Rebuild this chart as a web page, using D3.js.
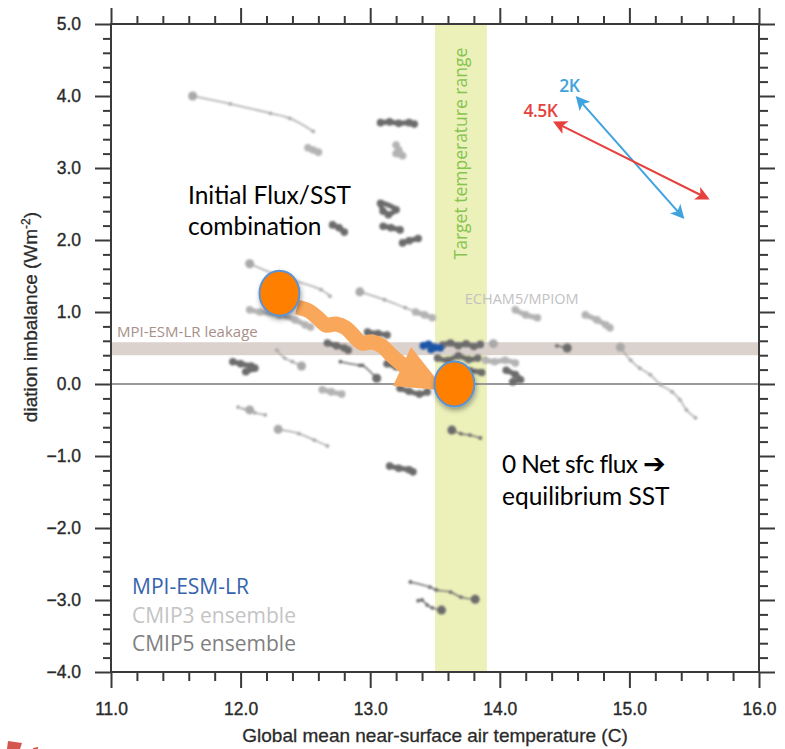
<!DOCTYPE html>
<html>
<head>
<meta charset="utf-8">
<script src="https://cdn.jsdelivr.net/npm/d3@7"></script>
<style>
  html, body { margin: 0; padding: 0; background: #fff; }
  svg { display: block; }
</style>
</head>
<body>
<div id="chart"></div>
<script>
// ---- axes / reference values ----
const xDomain = [11, 16];
const yDomain = [-4, 5];
const xTicks = [11, 12, 13, 14, 15, 16];
const yTicks = [-4, -3, -2, -1, 0, 1, 2, 3, 4, 5];
const targetRange = [13.5, 13.9];        // target temperature band (C)
const leakageBand = [0.4, 0.58];         // MPI-ESM-LR leakage (W m-2)

// ---- CMIP3 ensemble (light grey) ----
const cmip3Trails = [
  [[11.63, 4.00], [11.92, 3.89], [12.23, 3.76], [12.38, 3.69], [12.56, 3.51]],
  [[12.07, 1.67], [12.30, 1.50], [12.62, 1.31], [12.69, 1.22]],
  [[12.92, 1.28], [13.11, 1.17], [13.27, 1.06], [13.46, 0.93]],
  [[12.47, 0.25], [12.40, 0.31], [12.34, 0.36], [12.28, 0.47]],
  [[12.07, -0.36], [11.98, -0.32], [12.11, -0.40], [12.19, -0.43]],
  [[12.29, -0.63], [12.45, -0.69], [12.57, -0.78], [12.67, -0.86]],
  [[14.93, 0.51], [15.01, 0.33], [15.08, 0.22], [15.16, 0.13], [15.24, -0.01],
   [15.33, -0.11], [15.39, -0.22], [15.44, -0.36], [15.51, -0.47]],
  [[13.95, 0.56]]
];
const cmip3Blobs = [
  [[12.52, 3.28], [12.56, 3.25], [12.60, 3.22]],
  [[13.20, 3.32], [13.22, 3.25], [13.25, 3.17], [13.20, 3.20]],
  [[12.07, 1.03], [12.15, 1.00], [12.30, 0.96], [12.42, 0.89], [12.50, 0.82], [12.54, 0.79]],
  [[12.63, -0.08], [12.70, -0.11], [12.78, -0.14]],
  [[13.35, 1.00], [13.42, 0.96], [13.48, 0.92]],
  [[14.12, 1.03], [14.20, 0.96], [14.29, 0.92]],
  [[14.66, 0.96], [14.75, 0.89], [14.82, 0.82], [14.85, 0.78]],
  [[13.89, 0.33], [13.96, 0.31], [14.04, 0.33], [14.12, 0.29]]
];

// ---- CMIP5 ensemble (dark grey) ----
const cmip5Trails = [
  [[13.81, -2.99], [13.70, -2.96], [13.62, -2.89], [13.51, -2.86], [13.46, -2.82], [13.31, -2.75]],
  [[13.55, -3.14], [13.48, -3.11], [13.44, -3.07], [13.40, -3.00], [13.37, -3.01]],
  [[13.05, 0.08], [12.94, 0.26], [12.92, 0.26], [12.77, 0.31]],
  [[14.52, 0.50], [14.44, 0.53]],
  [[13.63, -0.64], [13.70, -0.69], [13.77, -0.71], [13.85, -0.75]]
];
const cmip5Blobs = [
  [[13.08, 3.63], [13.15, 3.64], [13.22, 3.62], [13.30, 3.63], [13.34, 3.61]],
  [[13.10, 2.40], [13.08, 2.51], [13.20, 2.42], [13.14, 2.35]],
  [[13.10, 2.19], [13.16, 2.17], [13.23, 2.14]],
  [[13.25, 1.96], [13.30, 1.99], [13.37, 2.02]],
  [[12.71, 2.21], [12.76, 2.17], [12.80, 2.11]],
  [[11.94, 0.31], [12.00, 0.28], [12.08, 0.25], [12.11, 0.22], [12.04, 0.17]],
  [[12.67, 0.57], [12.74, 0.53], [12.80, 0.50], [12.83, 0.47]],
  [[12.98, 0.72], [13.06, 0.70], [13.13, 0.68]],
  [[13.13, 0.28], [13.20, 0.24], [13.27, 0.20]],
  [[13.23, -0.06], [13.30, -0.10], [13.38, -0.14], [13.44, -0.11]],
  [[13.15, -1.14], [13.22, -1.17], [13.30, -1.19], [13.33, -1.22]],
  [[13.56, 0.54], [13.62, 0.57], [13.68, 0.53], [13.74, 0.56], [13.80, 0.52], [13.85, 0.55]],
  [[13.52, 0.36], [13.60, 0.33], [13.68, 0.39], [13.76, 0.34], [13.83, 0.36]],
  [[13.58, 0.19], [13.68, 0.15], [13.77, 0.18], [13.86, 0.16]],
  [[14.05, 0.19], [14.12, 0.13], [14.16, 0.06], [14.10, 0.03]],
  [[13.60, -0.05], [13.70, -0.08]]
];

// ---- MPI-ESM-LR (blue) ----
const mpiBlob = [[13.41, 0.53], [13.45, 0.55], [13.50, 0.51], [13.54, 0.50], [13.47, 0.48]];

// ---- climate sensitivity arrows ----
const arrow2K = [[14.60, 3.97], [15.41, 2.32]];
const arrow45K = [[14.43, 3.63], [15.60, 2.58]];

// ---- overlay annotation (initial state -> equilibrium) ----
const initialPoint = [12.30, 1.26];
const equilibriumPoint = [13.65, 0.0];
const pathToEquilibrium = [
  [12.435, 1.069], [12.528, 1.014], [12.597, 0.917], [12.659, 0.819], [12.736, 0.833],
  [12.813, 0.778], [12.875, 0.667], [12.937, 0.569], [13.014, 0.583], [13.091, 0.528],
  [13.153, 0.417], [13.214, 0.319], [13.261, 0.25]
];
const pathHead = [[13.315, 0.514], [13.176, -0.028], [13.58, -0.09]];

// ---- layout ----
const W = 785, H = 749;
const margin = { top: 24, right: 26, bottom: 77, left: 111 };
const w = W - margin.left - margin.right, h = H - margin.top - margin.bottom;

const svg = d3.select("#chart").append("svg").attr("width", W).attr("height", H);
const defs = svg.append("defs");
defs.append("filter").attr("id", "soft")
  .append("feGaussianBlur").attr("stdDeviation", 0.85);
defs.append("filter").attr("id", "shadow").attr("x", "-50%").attr("y", "-50%").attr("width", "200%").attr("height", "200%")
  .append("feDropShadow").attr("dx", 1).attr("dy", 3).attr("stdDeviation", 2.5)
  .attr("flood-color", "#000").attr("flood-opacity", 0.35);
function marker(id, color) {
  defs.append("marker").attr("id", id).attr("viewBox", "0 0 10 10")
    .attr("refX", 8).attr("refY", 5).attr("markerWidth", 7).attr("markerHeight", 7)
    .attr("orient", "auto-start-reverse")
    .append("path").attr("d", "M0,0 L10,5 L0,10 L2.5,5 Z").attr("fill", color);
}
marker("headBlue", "#3fa3dd");
marker("headRed", "#e6413d");

const g = svg.append("g").attr("transform", `translate(${margin.left},${margin.top})`);
const x = d3.scaleLinear().domain(xDomain).range([0, w]);
const y = d3.scaleLinear().domain(yDomain).range([h, 0]);

// bands
g.append("rect").attr("x", x(targetRange[0])).attr("y", 0)
  .attr("width", x(targetRange[1]) - x(targetRange[0])).attr("height", h).attr("fill", "#ecf0b9");
g.append("rect").attr("x", 0).attr("y", y(leakageBand[1]))
  .attr("width", w).attr("height", y(leakageBand[0]) - y(leakageBand[1])).attr("fill", "#dcd2cd");
g.append("line").attr("x1", 0).attr("x2", w).attr("y1", y(0)).attr("y2", y(0))
  .attr("stroke", "#9a9a9a").attr("stroke-width", 2);

g.append("text").attr("transform", `translate(${x((targetRange[0] + targetRange[1]) / 2) + 6},${y(1.73)}) rotate(-90)`)
  .attr("font-family", "Open Sans").attr("font-size", 17.5).attr("fill", "#86c452")
  .text("Target temperature range");
g.append("text").attr("x", 6).attr("y", y(leakageBand[1]) - 5)
  .attr("font-family", "Open Sans").attr("font-size", 15).attr("fill", "#a89089")
  .text("MPI-ESM-LR leakage");
g.append("text").attr("x", x(13.73)).attr("y", y(1.11))
  .attr("font-family", "Open Sans").attr("font-size", 14.5).attr("fill", "#c2c2c2")
  .text("ECHAM5/MPIOM");

// tracks
const line = d3.line().x(d => x(d[0])).y(d => y(d[1])).curve(d3.curveCatmullRom);
const gData = g.append("g").attr("filter", "url(#soft)");
function drawTrails(tracks, color) {
  tracks.forEach(pts => {
    if (pts.length > 1)
      gData.append("path").datum(pts).attr("d", line).attr("fill", "none")
        .attr("stroke", color).attr("stroke-width", 1.5);
    gData.selectAll(null).data(pts.slice(1)).join("circle")
      .attr("cx", d => x(d[0])).attr("cy", d => y(d[1])).attr("r", 1.9).attr("fill", color);
    gData.append("circle").attr("cx", x(pts[0][0])).attr("cy", y(pts[0][1])).attr("r", 4.5).attr("fill", color);
  });
}
function drawBlobs(tracks, color) {
  tracks.forEach(pts => {
    gData.append("path").datum(pts).attr("d", line).attr("fill", "none")
      .attr("stroke", color).attr("stroke-width", 5).attr("stroke-linecap", "round");
    gData.selectAll(null).data(pts).join("circle")
      .attr("cx", d => x(d[0])).attr("cy", d => y(d[1])).attr("r", 3.8).attr("fill", color);
  });
}
drawTrails(cmip3Trails, "#a9a9a9");
drawBlobs(cmip3Blobs, "#b3b3b3");
drawTrails(cmip5Trails, "#6c6c6c");
drawBlobs(cmip5Blobs, "#6c6c6c");
drawBlobs([mpiBlob], "#1f56a8");

// axes: ticks outward on all four sides
const minor = d3.range(-4, 5.001, 0.2).map(v => +v.toFixed(1)).filter(v => !yTicks.includes(v));
const minorX = d3.range(11, 16.001, 0.2).map(v => +v.toFixed(1)).filter(v => !xTicks.includes(v));
const fmt = d3.format(".1f");
const axisFont = "Liberation Sans, Arial, sans-serif";
function styleAxis(s) {
  s.select(".domain").remove();
  s.selectAll("line").attr("stroke", "#3a3a3a").attr("stroke-width", 2);
  s.selectAll("text").attr("font-family", axisFont)
    .attr("font-size", 17.5).attr("fill", "#2a2a2a").attr("stroke", "#2a2a2a").attr("stroke-width", 0.35);
}
g.append("g").attr("transform", `translate(0,${h})`)
  .call(d3.axisBottom(x).tickValues(xTicks).tickSize(16).tickSizeOuter(0).tickPadding(15).tickFormat(fmt)).call(styleAxis);
g.append("g").attr("transform", `translate(0,${h})`)
  .call(d3.axisBottom(x).tickValues(minorX).tickSize(9).tickFormat("")).call(styleAxis);
g.append("g").call(d3.axisTop(x).tickValues(xTicks).tickSize(16).tickFormat("")).call(styleAxis);
g.append("g").call(d3.axisTop(x).tickValues(minorX).tickSize(8).tickFormat("")).call(styleAxis);
g.append("g")
  .call(d3.axisLeft(y).tickValues(yTicks).tickSize(16).tickPadding(14).tickFormat(fmt)).call(styleAxis);
g.append("g").call(d3.axisLeft(y).tickValues(minor).tickSize(8).tickFormat("")).call(styleAxis);
g.append("g").attr("transform", `translate(${w},0)`)
  .call(d3.axisRight(y).tickValues(yTicks).tickSize(16).tickFormat("")).call(styleAxis);
g.append("g").attr("transform", `translate(${w},0)`)
  .call(d3.axisRight(y).tickValues(minor).tickSize(9).tickFormat("")).call(styleAxis);
g.append("rect").attr("width", w).attr("height", h).attr("fill", "none")
  .attr("stroke", "#3a3a3a").attr("stroke-width", 2);

// axis titles
g.append("text").attr("x", x(13.5)).attr("y", h + 70).attr("text-anchor", "middle")
  .attr("font-family", axisFont).attr("font-size", 19).attr("fill", "#2a2a2a")
  .attr("stroke", "#2a2a2a").attr("stroke-width", 0.3)
  .text("Global mean near-surface air temperature (C)");
const yl = svg.append("text").attr("transform", `translate(37,${margin.top + y(-0.53)}) rotate(-90)`)
  .attr("font-family", axisFont).attr("font-size", 19).attr("fill", "#2a2a2a")
  .attr("stroke", "#2a2a2a").attr("stroke-width", 0.3);
yl.append("tspan").text("diation imbalance (Wm");
yl.append("tspan").attr("baseline-shift", "super").attr("font-size", 12).text("-2");
yl.append("tspan").text(")");

// sensitivity arrows
[[arrow2K, "#3fa3dd", "headBlue", "2K"], [arrow45K, "#e6413d", "headRed", "4.5K"]].forEach(([pts, col, mk, lab]) => {
  g.append("line").attr("x1", x(pts[0][0])).attr("y1", y(pts[0][1]))
    .attr("x2", x(pts[1][0])).attr("y2", y(pts[1][1]))
    .attr("stroke", col).attr("stroke-width", 2)
    .attr("marker-start", `url(#${mk})`).attr("marker-end", `url(#${mk})`);
  g.append("text").attr("x", x(pts[0][0]) + 2).attr("y", y(pts[0][1]) - 6).attr("text-anchor", "end")
    .attr("font-family", "Open Sans").attr("font-weight", 600).attr("font-size", 17.5).attr("fill", col)
    .attr("letter-spacing", -0.5)
    .text(lab);
});

// legend
const legend = [["MPI-ESM-LR", "#3563ae"], ["CMIP3 ensemble", "#c4c4c4"], ["CMIP5 ensemble", "#7f7f7f"]];
legend.forEach(([t, c], i) => {
  g.append("text").attr("x", 21).attr("y", y(-2.92) + i * 28.5)
    .attr("font-family", "Open Sans").attr("font-size", 21).attr("fill", c).text(t);
});

// overlay: initial state drifting to equilibrium
const ov = g.append("g");
ov.append("path").datum(pathToEquilibrium).attr("d", d3.line().x(d => x(d[0])).y(d => y(d[1])).curve(d3.curveCatmullRom))
  .attr("fill", "none").attr("stroke", "#f9a75a").attr("stroke-width", 15).attr("stroke-linejoin", "round");
ov.append("path").attr("d", "M" + pathHead.map(d => [x(d[0]), y(d[1])].join(",")).join("L") + "Z")
  .attr("fill", "#f9a75a");
[initialPoint, equilibriumPoint].forEach(p => {
  ov.append("ellipse").attr("cx", x(p[0])).attr("cy", y(p[1])).attr("rx", 20).attr("ry", 22.5)
    .attr("fill", "#ff7f00").attr("stroke", "#5b92d3").attr("stroke-width", 2).attr("filter", "url(#shadow)");
});

const annoFont = "Lato, 'Open Sans', sans-serif";
g.append("text").attr("x", 77).attr("y", 180).attr("font-family", annoFont).attr("font-size", 24.5).attr("fill", "#000")
  .call(t => { t.append("tspan").attr("x", 77).text("Initial Flux/SST");
               t.append("tspan").attr("x", 77).attr("dy", 31).text("combination"); });
g.append("text").attr("x", 391).attr("y", 449).attr("font-family", annoFont).attr("font-size", 24.5).attr("fill", "#000")
  .call(t => { t.append("tspan").attr("x", 391).attr("letter-spacing", -0.6).text("0 Net sfc flux ");
               t.append("tspan").attr("font-family", "DejaVu Sans").attr("font-weight", "bold").attr("font-size", 27).text("\u2794");
               t.append("tspan").attr("x", 391).attr("dy", 32).text("equilibrium SST"); });

// cropped red fragment at bottom-left corner
svg.append("path").attr("d", "M8,741 L22,743 L20,749 L7,749 Z M33,748 L38,747 L38,749 L33,749 Z").attr("fill", "#d4574f");
</script>
</body>
</html>
